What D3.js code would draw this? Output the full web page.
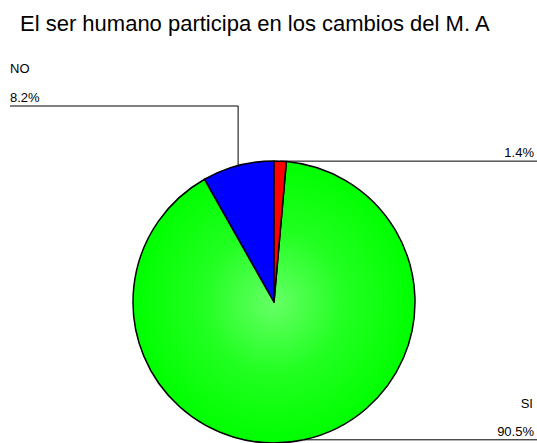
<!DOCTYPE html>
<html>
<head>
<meta charset="utf-8">
<script src="https://cdn.jsdelivr.net/npm/d3@7"></script>
<style>
  html, body { margin: 0; padding: 0; background: #fff; }
  svg { display: block; font-family: "Liberation Sans", Arial, sans-serif; }
</style>
</head>
<body>
<svg id="chart" width="537" height="443"></svg>
<script>
const title = "El ser humano participa en los cambios del M. A";
const categories = ["SI", "NO", "NS"];
const values = [90.5, 8.2, 1.4];
const percentLabels = ["90.5%", "8.2%", "1.4%"];
const colors = ["#00ff00", "#0000ff", "#ff0000"];

const W = 537, H = 443;
const cx = 274, cy = 302, r = 141;
const svg = d3.select("#chart");

const defs = svg.append("defs");
const grad = defs.append("radialGradient").attr("id", "gGreen")
  .attr("cx", 0.5).attr("cy", 0.5).attr("r", 0.5);
grad.append("stop").attr("offset", "0%").attr("stop-color", "#66ff66");
grad.append("stop").attr("offset", "50%").attr("stop-color", "#22ff22");
grad.append("stop").attr("offset", "100%").attr("stop-color", "#00ff00");

svg.append("text").attr("x", 20).attr("y", 31)
  .attr("font-size", 22).attr("fill", "#000").text(title);

const data = categories.map((c, i) => ({ name: c, value: values[i], label: percentLabels[i], color: colors[i] }));

// order clockwise from top: NS (red), SI (green), NO (blue)
const order = ["NS", "SI", "NO"];
const pie = d3.pie().value(d => d.value)
  .sort((a, b) => order.indexOf(a.name) - order.indexOf(b.name));
const arcs = pie(data);
const arc = d3.arc().innerRadius(0).outerRadius(r);

const g = svg.append("g").attr("transform", `translate(${cx},${cy})`);
g.selectAll("path").data(arcs).join("path")
  .attr("d", arc)
  .attr("fill", d => d.data.name === "SI" ? "url(#gGreen)" : d.data.color)
  .attr("stroke", "#000").attr("stroke-width", 1.5).attr("stroke-linejoin", "round");

function edgePoint(d) {
  const a = (d.startAngle + d.endAngle) / 2;
  return [cx + r * Math.sin(a), cy - r * Math.cos(a)];
}

const fs = 13;
arcs.forEach(d => {
  const [px, py] = edgePoint(d);
  const n = d.data.name;
  if (n === "NO") {
    const ly = 106;
    svg.append("path").attr("d", `M10,${ly}H${px}V${py}`)
      .attr("fill", "none").attr("stroke", "#000").attr("stroke-width", 1);
    svg.append("text").attr("x", 10).attr("y", ly - 4.5).attr("font-size", fs).text(d.data.label);
    svg.append("text").attr("x", 10).attr("y", ly - 33).attr("font-size", fs).text(d.data.name);
  } else if (n === "NS") {
    svg.append("path").attr("d", `M${px},${py}H${W}`)
      .attr("fill", "none").attr("stroke", "#000").attr("stroke-width", 1);
    svg.append("text").attr("x", 534).attr("y", py - 4).attr("text-anchor", "end")
      .attr("font-size", fs).text(d.data.label);
  } else {
    svg.append("path").attr("d", `M${px},${py}H${W}`)
      .attr("fill", "none").attr("stroke", "#000").attr("stroke-width", 1);
    svg.append("text").attr("x", 534).attr("y", py - 4).attr("text-anchor", "end")
      .attr("font-size", fs).text(d.data.label);
    svg.append("text").attr("x", 533).attr("y", py - 32).attr("text-anchor", "end")
      .attr("font-size", fs).text(d.data.name);
  }
});
</script>
</body>
</html>
